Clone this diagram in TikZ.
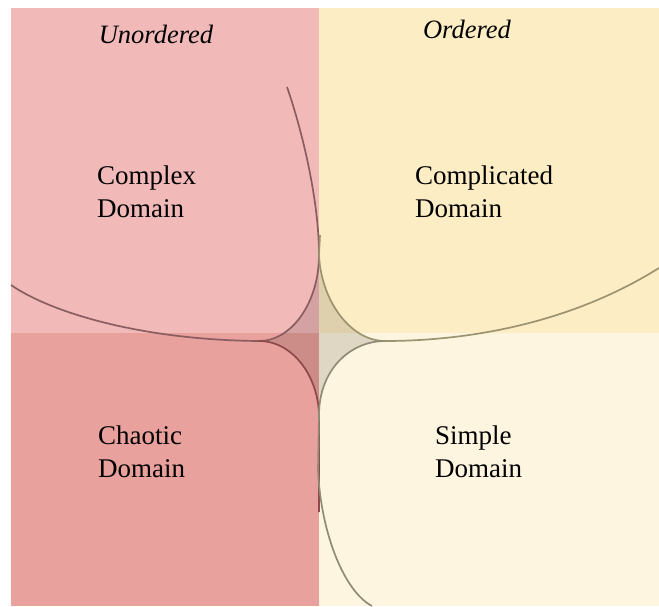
\documentclass[tikz,border=0pt]{standalone}
\usepackage{fontspec}
\setmainfont{Liberation Serif}
\definecolor{complexbg}{HTML}{F2B9B9}
\definecolor{complicatedbg}{HTML}{FDEDC4}
\definecolor{chaoticbg}{HTML}{E9A19D}
\definecolor{simplebg}{HTML}{FEF5E0}
\definecolor{complexline}{HTML}{8A5E60}
\definecolor{complicatedline}{HTML}{9C9470}
\definecolor{chaoticline}{HTML}{8E4A4A}
\definecolor{simpleline}{HTML}{8F8C76}

\begin{document}
\begin{tikzpicture}[x=1pt, y=-1pt,%
	every node/.style={inner sep=0pt, align=left, font=\fontsize{27}{33}\selectfont},
	head/.style={font=\fontsize{26.5}{30}\selectfont\itshape},
	border/.style={line width=1.7pt}]
	\useasboundingbox (0,0) rectangle (659,606);
	\fill[complexbg] (11,8) rectangle (319,333);
	\fill[complicatedbg] (319,8) rectangle (659,333);
	\fill[chaoticbg] (11,333) rectangle (319,606);
	\fill[simplebg] (319,333) rectangle (659,606);

	\coordinate (top) at (319,255);
	\coordinate (left) at (259,341);
	\coordinate (bottom) at (319,415);
	\coordinate (right) at (385,341);

	% disorder in the middle
	\fill[black, fill opacity=0.12] (top) .. controls (319,302) and (292,341) .. (left)
		.. controls (292,341) and (318,375) .. (bottom)
		.. controls (319,370) and (350,341) .. (right)
		.. controls (350,341) and (321,300) .. (top) -- cycle;

	% domain borders
	\draw[border, complexline] (287,87) .. controls (302,130) and (319,200) .. (top)
		.. controls (319,302) and (292,341) .. (left)
		.. controls (140,340) and (50,312) .. (11,285);
	\draw[border, complicatedline] (659,268) .. controls (560,330) and (450,341) .. (right)
		.. controls (350,341) and (321,300) .. (top) -- (320,235);
	\draw[border, chaoticline] (left) .. controls (292,341) and (318,375) .. (bottom)
		-- (319,512);
	\draw[border, simpleline] (right) .. controls (350,341) and (319,370) .. (bottom)
		-- (318,470) .. controls (321,535) and (345,592) .. (372,606);

	\node[head] (unordered) at (156,34) {Unordered};
	\node[head] (ordered) at (467,29) {Ordered};
	\node[anchor=west] (complex) at (97,192) {Complex\\Domain};
	\node[anchor=west] (complicated) at (415,192) {Complicated\\Domain};
	\node[anchor=west] (chaotic) at (98,452) {Chaotic\\Domain};
	\node[anchor=west] (simple) at (435,452) {Simple\\Domain};
\end{tikzpicture}
\end{document}
